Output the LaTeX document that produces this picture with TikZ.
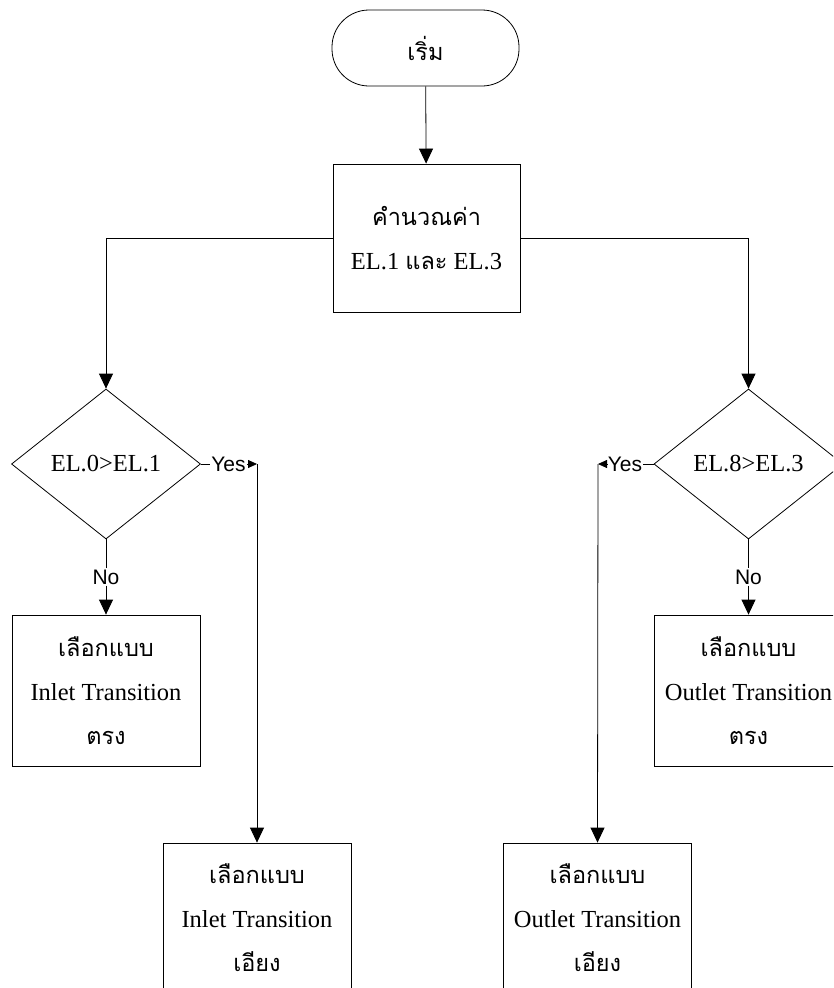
\documentclass[tikz,border=0pt]{standalone}
\usepackage{fontspec}
\setmainfont{Liberation Serif}
\newfontfamily\thaifont[Script=Thai]{Loma}
\newfontfamily\arialfont{Liberation Sans}
\usetikzlibrary{shapes.geometric,arrows.meta}
\newcommand{\thtxt}[1]{{\thaifont\fontsize{23.5}{44}\selectfont #1}}
\tikzset{
  x=1pt,y=-1pt,
  every node/.style={font=\fontsize{24.5}{44}\selectfont, align=center, text=black},
  proc/.style={draw, line width=0.8pt, minimum width=188pt, minimum height=150pt, inner sep=0pt},
  term/.style={draw, line width=0.8pt, rounded corners=37pt, minimum width=187pt, minimum height=76pt, inner sep=0pt},
  decision/.style={draw, diamond, line width=0.8pt, minimum width=189pt, minimum height=150pt, inner sep=0pt},
  lbl/.style={font=\arialfont\fontsize{21}{24}\selectfont, inner sep=1pt},
  flow/.style={line width=0.8pt, -{Triangle[width=14pt,length=15pt]}},
  tick/.style={line width=0.8pt, -{Triangle[width=8pt,length=9pt]}},
  plain/.style={line width=0.8pt}
}
\begin{document}
\begin{tikzpicture}
\clip (0,0) rectangle (833,988);
\fill[white] (0,0) rectangle (833,988);
\node[term] (start) at (425.5,48) {\thtxt{เริ่ม}};
\node[proc, minimum width=187pt, minimum height=148pt] (calc) at (426.5,238) {\thtxt{คำนวณค่า}\\EL.1 \thtxt{และ} EL.3};
\node[decision] (d1) at (106,464) {EL.0>EL.1};
\node[decision] (d2) at (748.5,464) {EL.8>EL.3};
\node[proc, minimum height=151pt] (b1) at (106,690.5) {\thtxt{เลือกแบบ}\\Inlet Transition\\\thtxt{ตรง}};
\node[proc, minimum height=151pt] (b2) at (748.5,690.5) {\thtxt{เลือกแบบ}\\Outlet Transition\\\thtxt{ตรง}};
\node[proc] (b3) at (257,918) {\thtxt{เลือกแบบ}\\Inlet Transition\\\thtxt{เอียง}};
\node[proc] (b4) at (597.5,918) {\thtxt{เลือกแบบ}\\Outlet Transition\\\thtxt{เอียง}};
\node[lbl] (yes1) at (228.5,464) {Yes};
\node[lbl] (yes2) at (625,464) {Yes};
\node[lbl] (no1) at (106,577) {No};
\node[lbl] (no2) at (748.5,577) {No};
\coordinate (c1) at (257,464);
\coordinate (c2) at (598,464);
\draw[flow] (start) -- (calc);
\draw[flow] (calc.west) -| (d1.north);
\draw[flow] (calc.east) -| (d2.north);
\draw[plain] (d1.east) -- (yes1.west);
\draw[tick] (yes1.east) -- (c1);
\draw[flow] (c1) -- (b3.north);
\draw[plain] (d2.west) -- (yes2.east);
\draw[tick] (yes2.west) -- (c2);
\draw[flow] (c2) -- (b4.north);
\draw[plain] (d1.south) -- (no1.north);
\draw[flow] (no1.south) -- (b1.north);
\draw[plain] (d2.south) -- (no2.north);
\draw[flow] (no2.south) -- (b2.north);
\end{tikzpicture}
\end{document}
